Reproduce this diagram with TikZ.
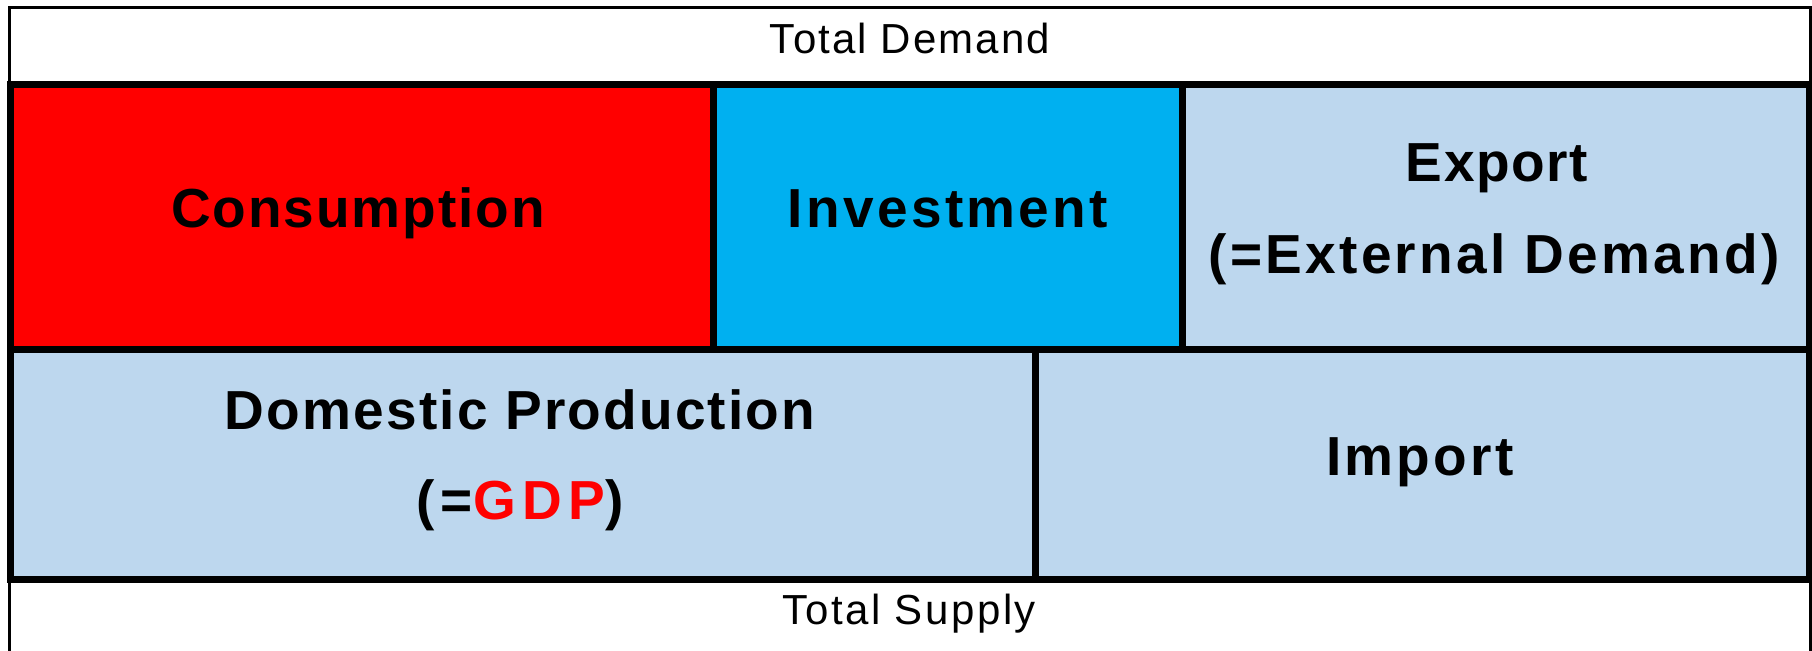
\documentclass[tikz,border=0pt]{standalone}
\usepackage{fontspec}
\setmainfont{Liberation Sans}[LetterSpace=5]
\usepackage{tikz}
\definecolor{consred}{HTML}{FF0000}
\definecolor{invblue}{HTML}{00B0F0}
\definecolor{paleblue}{HTML}{BDD7EE}
\newcommand\px{0.4pt}
\newcommand\track[1]{\addfontfeature{LetterSpace=#1}}
\tikzstyle{cell}=[draw,anchor=north west,inner sep=0pt,outer sep=0pt]
\tikzstyle{rim}=[cell,line width=2.7*\px,fill=white]
\tikzstyle{part}=[cell,line width=7*\px]
\tikzstyle{rimtext}=[anchor=base,inner sep=0pt,font=\fontsize{16.8}{20}\selectfont]
\tikzstyle{parttext}=[anchor=base,inner sep=0pt,font=\fontsize{22}{26}\selectfont\bfseries]

\begin{document}
\begin{tikzpicture}[x=\px,y=-\px]
	\useasboundingbox (0,0) rectangle (1812,651);
	% outer rows
	\node[rim,minimum width=1800.8*\px,minimum height=76.7*\px] (demand) at (9.7,7.3) {};
	\node[rim,minimum width=1800.8*\px,minimum height=90*\px]   (supply) at (9.7,579.5) {};
	% demand side
	\node[part,fill=consred,  minimum width=703*\px,minimum height=265*\px] (cons) at (10.5,84.5) {};
	\node[part,fill=invblue,  minimum width=469*\px,minimum height=265*\px] (inv)  at (713.5,84.5) {};
	\node[part,fill=paleblue, minimum width=627*\px,minimum height=265*\px] (exp)  at (1182.5,84.5) {};
	% supply side
	\node[part,fill=paleblue, minimum width=1025*\px,minimum height=230*\px] (dom) at (10.5,349.5) {};
	\node[part,fill=paleblue, minimum width=774*\px, minimum height=230*\px] (imp) at (1035.5,349.5) {};
	% labels
	\node[rimtext] (demandtext) at (910,54)  {Total Demand};
	\node[rimtext] (supplytext) at (909,624) {\track{6}Total Supply};
	\node[parttext] (constext)  at (358,228)  {\track{3.5}Consumption};
	\node[parttext] (invtext)   at (948,228)  {\track{6}Investment};
	\node[parttext] (exptext)   at (1497,182) {\track{3}Export};
	\node[parttext] (expnote)   at (1494,274) {\track{6}(=External Demand)};
	\node[parttext] (domtext)   at (520,430)  {\track{4}Domestic Production};
	\node[parttext] (domnote)   at (520,519)  {\track{12}(=\textcolor{consred}{GDP})};
	\node[parttext] (imptext)   at (1420,475) {\track{6}Import};
\end{tikzpicture}
\end{document}
